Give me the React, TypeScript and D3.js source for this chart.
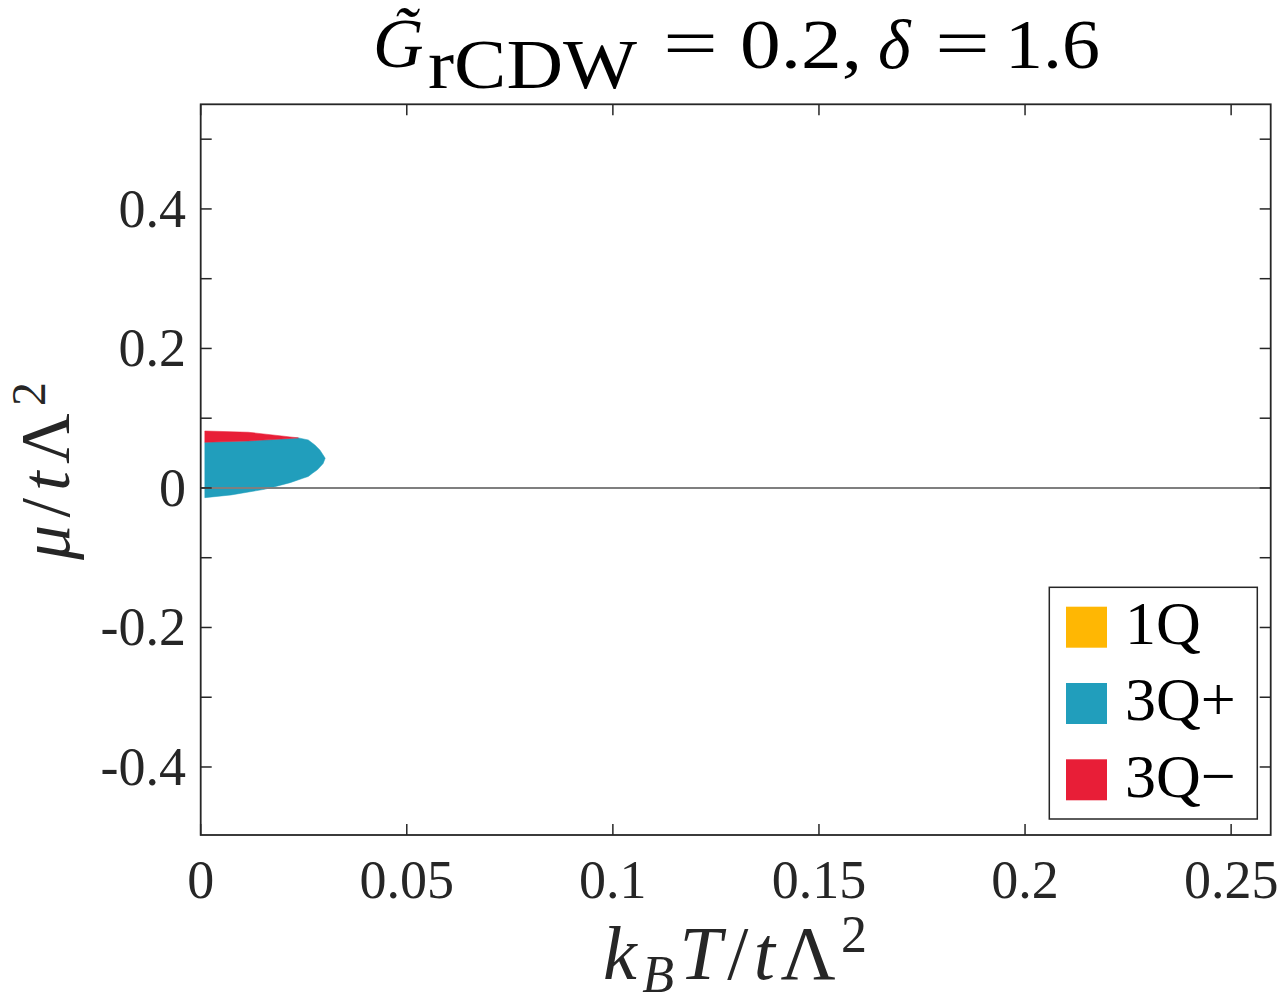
import * as d3 from 'd3';

// phase boundaries (T = k_B T / tΛ², mu = μ / tΛ²)
const blueUpperT  = [0.001, 0.0115, 0.0196, 0.0237, 0.0261, 0.0277, 0.0289, 0.0297, 0.0302];
const blueUpperMu = [0.0655, 0.0674, 0.0702, 0.0718, 0.0688, 0.0616, 0.0545, 0.0473, 0.0426];
const blueLowerT  = [0.001, 0.0074, 0.0155, 0.0180, 0.0217, 0.0248, 0.0261, 0.0272, 0.0283, 0.0291, 0.0297, 0.0302];
const blueLowerMu = [-0.0139, -0.0100, -0.0019, 0.0019, 0.0076, 0.0139, 0.0165, 0.0215, 0.0260, 0.0310, 0.0350, 0.0426];
const redUpperT   = [0.001, 0.0115, 0.0196, 0.0237];
const redUpperMu  = [0.0817, 0.0799, 0.0746, 0.0718];

const xTicks      = [0, 0.05, 0.1, 0.15, 0.2, 0.25];
const xTickLabels = ['0', '0.05', '0.1', '0.15', '0.2', '0.25'];
const yTicks      = [-0.4, -0.3, -0.2, -0.1, 0, 0.1, 0.2, 0.3, 0.4, 0.5];
const yLabelTicks = [-0.4, -0.2, 0, 0.2, 0.4];
const yTickLabels = ['-0.4', '-0.2', '0', '0.2', '0.4'];

const legendNames  = ['1Q', '3Q+', '3Q\u2212'];
const legendColors = ['#FFB703', '#219EBC', '#E81E37'];

const W = 1282;
const H = 1003;
const L = 200.7, R = 1270.7, T = 104.3, B = 835;
const INK = '#262626';
const FONT = '"Liberation Serif", "DejaVu Serif", serif';

export default function App() {
  const x = d3.scaleLinear().domain([0, 0.2596]).range([L, R]);
  const y = d3.scaleLinear().domain([-0.4975, 0.55]).range([B, T]);

  type P = [number, number];
  const zip = (ts: number[], ms: number[]): P[] => ts.map((t, i) => [t, ms[i]]);

  const poly = d3.line<P>().x(d => x(d[0])).y(d => y(d[1])).curve(d3.curveLinearClosed);

  const bluePts: P[] = [
    ...zip(blueUpperT, blueUpperMu),
    ...zip(blueLowerT, blueLowerMu).reverse(),
  ];
  const n = redUpperT.length;
  const redPts: P[] = [
    ...zip(redUpperT, redUpperMu),
    ...zip(blueUpperT.slice(0, n), blueUpperMu.slice(0, n)).reverse(),
  ];

  const tick = 11;

  return (
    <svg width={W} height={H} style={{ position: 'absolute', left: 0, top: 0, background: '#fff' }}
      fontFamily={FONT}>
      <rect x={0} y={0} width={W} height={H} fill="#fff" />

      {/* phase regions */}
      <path d={poly(bluePts) ?? ''} fill={legendColors[1]} stroke={legendColors[1]} strokeWidth={0.5} />
      <path d={poly(redPts) ?? ''} fill={legendColors[2]} stroke={legendColors[2]} strokeWidth={0.5} />

      {/* zero line */}
      <line x1={L} x2={R} y1={y(0)} y2={y(0)} stroke="#7f7f7f" strokeWidth={2} />

      {/* ticks */}
      {xTicks.map(v => (
        <g key={'xt' + v}>
          <line x1={x(v)} x2={x(v)} y1={B} y2={B - tick} stroke={INK} strokeWidth={1.5} />
          <line x1={x(v)} x2={x(v)} y1={T} y2={T + tick} stroke={INK} strokeWidth={1.5} />
        </g>
      ))}
      {yTicks.map(v => (
        <g key={'yt' + v}>
          <line x1={L} x2={L + tick} y1={y(v)} y2={y(v)} stroke={INK} strokeWidth={1.5} />
          <line x1={R} x2={R - tick} y1={y(v)} y2={y(v)} stroke={INK} strokeWidth={1.5} />
        </g>
      ))}

      {/* box */}
      <rect x={L} y={T} width={R - L} height={B - T} fill="none" stroke={INK} strokeWidth={1.8} />

      {/* tick labels */}
      {xTicks.map((v, i) => (
        <text key={'xl' + v} x={x(v)} y={898} textAnchor="middle" fontSize={54} fill={INK}>
          {xTickLabels[i]}
        </text>
      ))}
      {yLabelTicks.map((v, i) => (
        <text key={'yl' + v} x={186} y={y(v) + 18} textAnchor="end" fontSize={54} fill={INK}>
          {yTickLabels[i]}
        </text>
      ))}

      {/* axis labels */}
      <text x={735} y={979} textAnchor="middle" fontSize={76} fill={INK}
        textLength={264} lengthAdjust="spacing">
        <tspan fontStyle="italic">k</tspan>
        <tspan fontStyle="italic" fontSize={52} dy={13}>B</tspan>
        <tspan fontStyle="italic" dy={-13}>T</tspan>
        <tspan>/</tspan>
        <tspan fontStyle="italic">t</tspan>
        <tspan>Λ</tspan>
        <tspan fontSize={52} dy={-27}>2</tspan>
      </text>
      <text transform="translate(69,471) rotate(-90)" textAnchor="middle" fontSize={70} fill={INK}
        textLength={178} lengthAdjust="spacing">
        <tspan fontStyle="italic">μ</tspan>
        <tspan>/</tspan>
        <tspan fontStyle="italic">t</tspan>
        <tspan>Λ</tspan>
        <tspan fontSize={48} dy={-24}>2</tspan>
      </text>

      {/* title */}
      <g fontSize={70} fill="#000">
        <text x={373} y={67} fontStyle="italic">G&#x0303;</text>
        <text x={428} y={88} textLength={209} lengthAdjust="spacingAndGlyphs">rCDW</text>
        <text x={663} y={67} textLength={55} lengthAdjust="spacingAndGlyphs">=</text>
        <text x={740} y={68} textLength={122} lengthAdjust="spacingAndGlyphs">0.2,</text>
        <text x={878} y={68} fontStyle="italic">δ</text>
        <text x={935} y={67} textLength={55} lengthAdjust="spacingAndGlyphs">=</text>
        <text x={1005} y={68} textLength={95} lengthAdjust="spacingAndGlyphs">1.6</text>
      </g>

      {/* legend */}
      <rect x={1049.3} y={587.3} width={208} height={231.7} fill="#fff" stroke={INK} strokeWidth={1.5} />
      {legendNames.map((name, i) => (
        <g key={name}>
          <rect x={1066} y={606.7 + i * 76.3} width={41} height={41} fill={legendColors[i]} />
          <text x={1125} y={644 + i * 76.3} fontSize={62} fill="#000">{name}</text>
        </g>
      ))}
    </svg>
  );
}
